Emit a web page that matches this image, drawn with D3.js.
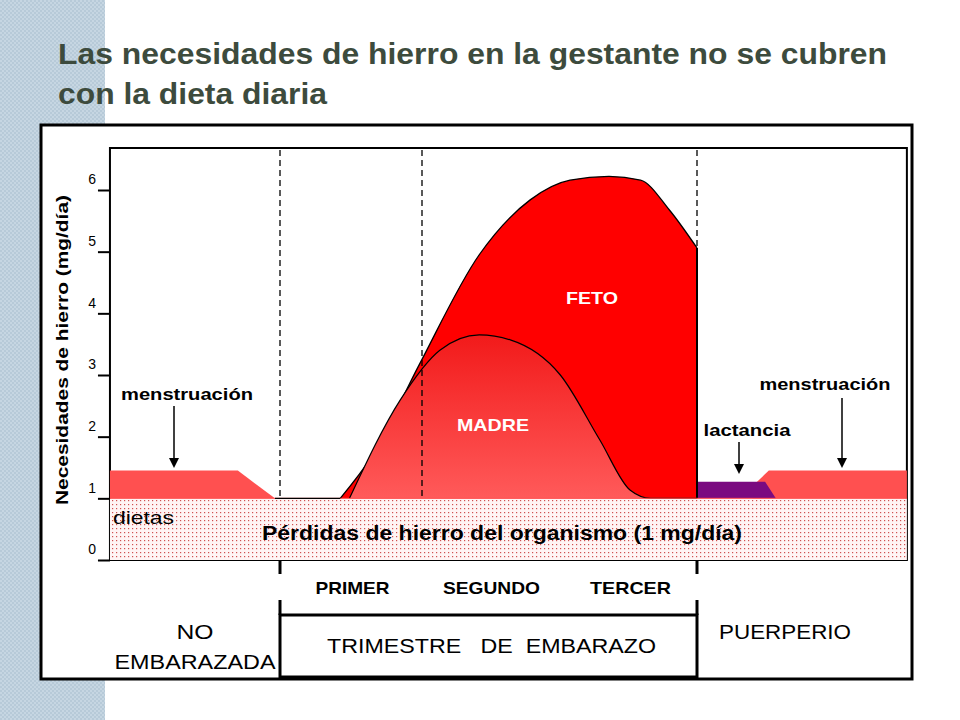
<!DOCTYPE html>
<html><head><meta charset="utf-8">
<script src="https://cdn.jsdelivr.net/npm/d3@7"></script>
<style>body{margin:0;background:#fff}svg{font-family:Arial,"Liberation Sans",sans-serif}</style>
</head><body><svg id="c" width="960" height="720"></svg>
<script>
// months relative to conception (0..9 = pregnancy)
const yTicks = [0, 1, 2, 3, 4, 5, 6];
const mensLeft = [[-3.67, 1.45], [-0.91, 1.45], [-0.11, 1.0]];
const fetoTotal = [[1.3, 1.0], [2.0, 1.7], [3.0, 3.16], [4.3, 4.95], [5.4, 5.84], [6.26, 6.16], [7.1, 6.22], [7.78, 6.16], [8.4, 5.68], [9.0, 5.06]];
const madre = [[1.5, 1.0], [2.6, 2.6], [3.45, 3.4], [4.3, 3.65], [4.97, 3.57], [6.05, 3.0], [6.9, 1.95], [7.56, 1.13], [8.0, 1.0], [9.0, 1.0]];
const lactancia = [[9.0, 1.27], [10.47, 1.27], [10.7, 1.0]];
const mensRight = [[10.2, 1.2], [10.55, 1.45], [13.53, 1.45]];
const trimestres = ["PRIMER", "SEGUNDO", "TERCER"];
const trimWidths = [74, 97, 81];
const trimBounds = [0, 3, 6, 9];

const svg = d3.select('#c');
const x = d3.scaleLinear().domain([0, 9]).range([280, 697]);
const y = d3.scaleLinear().domain([0, 6]).range([560, 190]);
const X0 = x(-3.67), X1 = x(13.53);

// left stripe
const defs = svg.append('defs');
const pat = defs.append('pattern').attr('id', 'tex').attr('width', 4).attr('height', 4).attr('patternUnits', 'userSpaceOnUse');
pat.append('rect').attr('width', 4).attr('height', 4).attr('fill', '#b7cad8');
pat.append('rect').attr('width', 2).attr('height', 2).attr('fill', '#c6d6e2');
pat.append('rect').attr('x', 2).attr('y', 2).attr('width', 2).attr('height', 2).attr('fill', '#c6d6e2');
svg.append('rect').attr('width', 105).attr('height', 720).attr('fill', 'url(#tex)');

const dots = defs.append('pattern').attr('id', 'dots').attr('width', 4).attr('height', 4).attr('patternUnits', 'userSpaceOnUse');
dots.append('rect').attr('width', 4).attr('height', 4).attr('fill', '#fff4f4');
dots.append('rect').attr('width', 1.2).attr('height', 1.2).attr('fill', '#d05050');

const grad = defs.append('linearGradient').attr('id', 'madreG').attr('x1', 0).attr('x2', 0).attr('y1', 0).attr('y2', 1);
grad.append('stop').attr('offset', '0%').attr('stop-color', '#f21a1a');
grad.append('stop').attr('offset', '100%').attr('stop-color', '#ff5a5a');

const fit = (t, w) => t.attr('textLength', w).attr('lengthAdjust', 'spacingAndGlyphs');

fit(svg.append('text').attr('x', 58).attr('y', 64).attr('font-size', 29).attr('font-weight', 'bold').attr('fill', '#3d4b3d')
  .text('Las necesidades de hierro en la gestante no se cubren'), 829);
fit(svg.append('text').attr('x', 58).attr('y', 104).attr('font-size', 29).attr('font-weight', 'bold').attr('fill', '#3d4b3d')
  .text('con la dieta diaria'), 269);

svg.append('rect').attr('x', 41).attr('y', 125).attr('width', 871).attr('height', 554)
  .attr('fill', '#fff').attr('stroke', '#000').attr('stroke-width', 3);

// plot frame
svg.append('rect').attr('x', X0).attr('y', 148).attr('width', X1 - X0).attr('height', 560 - 148)
  .attr('fill', '#fff').attr('stroke', '#000').attr('stroke-width', 2);

// base losses band
svg.append('rect').attr('x', X0).attr('y', y(1)).attr('width', X1 - X0).attr('height', y(0) - y(1))
  .attr('fill', 'url(#dots)');

const area = d3.area().x(d => x(d[0])).y0(y(1)).y1(d => y(d[1]));
const smooth = d3.area().curve(d3.curveMonotoneX).x(d => x(d[0])).y0(y(1)).y1(d => y(d[1]));
const smoothLine = d3.line().curve(d3.curveMonotoneX).x(d => x(d[0])).y(d => y(d[1]));

svg.append('path').datum(mensLeft).attr('d', area).attr('fill', '#ff5050');
svg.append('path').datum(mensRight).attr('d', area).attr('fill', '#ff5050');
svg.append('path').datum(lactancia).attr('d', area).attr('fill', '#7a0a80');

svg.append('path').datum(fetoTotal).attr('d', smooth).attr('fill', '#ff0000');
svg.append('path').datum(fetoTotal).attr('d', smoothLine).attr('fill', 'none').attr('stroke', '#000').attr('stroke-width', 1.3);
svg.append('line').attr('x1', x(9)).attr('x2', x(9)).attr('y1', y(fetoTotal[fetoTotal.length - 1][1])).attr('y2', y(1))
  .attr('stroke', '#000').attr('stroke-width', 2);
svg.append('path').datum(madre).attr('d', smooth).attr('fill', 'url(#madreG)');
svg.append('path').datum(madre).attr('d', smoothLine).attr('fill', 'none').attr('stroke', '#000').attr('stroke-width', 1.2);
svg.append('line').attr('x1', X0).attr('x2', X1).attr('y1', y(1)).attr('y2', y(1)).attr('stroke', '#ff5050').attr('stroke-width', 1);
svg.append('line').attr('x1', x(-0.11)).attr('x2', x(1.3)).attr('y1', y(1)).attr('y2', y(1)).attr('stroke', '#000').attr('stroke-width', 1.3);

// dashed dividers
trimBounds.forEach((t, i) => {
  if (i === 2) return;
  svg.append('line').attr('x1', x(t) + (i === 1 ? 3 : 0)).attr('x2', x(t) + (i === 1 ? 3 : 0)).attr('y1', 150).attr('y2', i === 3 ? y(5.06) : y(1))
    .attr('stroke', '#000').attr('stroke-width', 1.3).attr('stroke-dasharray', '6,4');
});

// y axis
svg.append('g').attr('transform', `translate(${X0},0)`)
  .call(d3.axisLeft(y).tickValues(yTicks).tickSize(12).tickFormat(d3.format('d')))
  .call(g => g.select('.domain').remove())
  .call(g => g.selectAll('line').attr('stroke-width', 2))
  .call(g => g.selectAll('text').attr('font-size', 14).attr('x', -14).attr('dy', '-0.45em').attr('font-family', 'Arial'));
fit(svg.append('text').attr('transform', 'translate(68,350) rotate(-90)').attr('text-anchor', 'middle')
  .attr('font-size', 17).attr('font-weight', 'bold').text('Necesidades de hierro (mg/día)'), 310);

// labels in plot
const lab = (tx, ty, s, w, o = {}) => fit(svg.append('text').attr('x', tx).attr('y', ty).attr('text-anchor', o.a || 'middle')
  .attr('font-size', o.fs || 17).attr('font-weight', o.w || 'bold').attr('fill', o.c || '#000').text(s), w);
lab(592, 304, 'FETO', 52, { c: '#fff' });
lab(493, 431, 'MADRE', 72, { c: '#fff' });
lab(502, 540, 'Pérdidas de hierro del organismo (1 mg/día)', 480, { fs: 20 });
lab(113, 524, 'dietas', 61, { a: 'start', w: 'normal', fs: 19 });
lab(187, 400, 'menstruación', 132);
lab(825, 390, 'menstruación', 131);
lab(747, 436, 'lactancia', 87);

const arrow = (ax, y1, y2) => {
  svg.append('line').attr('x1', ax).attr('x2', ax).attr('y1', y1).attr('y2', y2 - 8).attr('stroke', '#000').attr('stroke-width', 1.5);
  svg.append('path').attr('d', `M${ax - 5},${y2 - 10}L${ax + 5},${y2 - 10}L${ax},${y2}Z`).attr('fill', '#000');
};
arrow(174, 406, 468);
arrow(842, 398, 468);
arrow(739, 442, 474);

// bottom scale
[0, 9].forEach(t => {
  svg.append('line').attr('x1', x(t)).attr('x2', x(t)).attr('y1', 560).attr('y2', 574).attr('stroke', '#000').attr('stroke-width', 3);
  svg.append('line').attr('x1', x(t)).attr('x2', x(t)).attr('y1', 600).attr('y2', 615).attr('stroke', '#000').attr('stroke-width', 3);
});
trimestres.forEach((s, i) => lab(x(trimBounds[i] + 1.5) + 3, 594, s, trimWidths[i], { fs: 17 }));
svg.append('rect').attr('x', x(0)).attr('y', 615).attr('width', x(9) - x(0)).attr('height', 62)
  .attr('fill', 'none').attr('stroke', '#000').attr('stroke-width', 3);
lab(x(4.5) + 3, 653, 'TRIMESTRE   DE  EMBARAZO', 329, { fs: 20, w: 'normal' }).attr('style', 'white-space:pre');
lab(195, 639, 'NO', 37, { fs: 20, w: 'normal' });
lab(195, 669, 'EMBARAZADA', 161, { fs: 20, w: 'normal' });
lab(785, 639, 'PUERPERIO', 132, { fs: 20, w: 'normal' });
</script></body></html>
